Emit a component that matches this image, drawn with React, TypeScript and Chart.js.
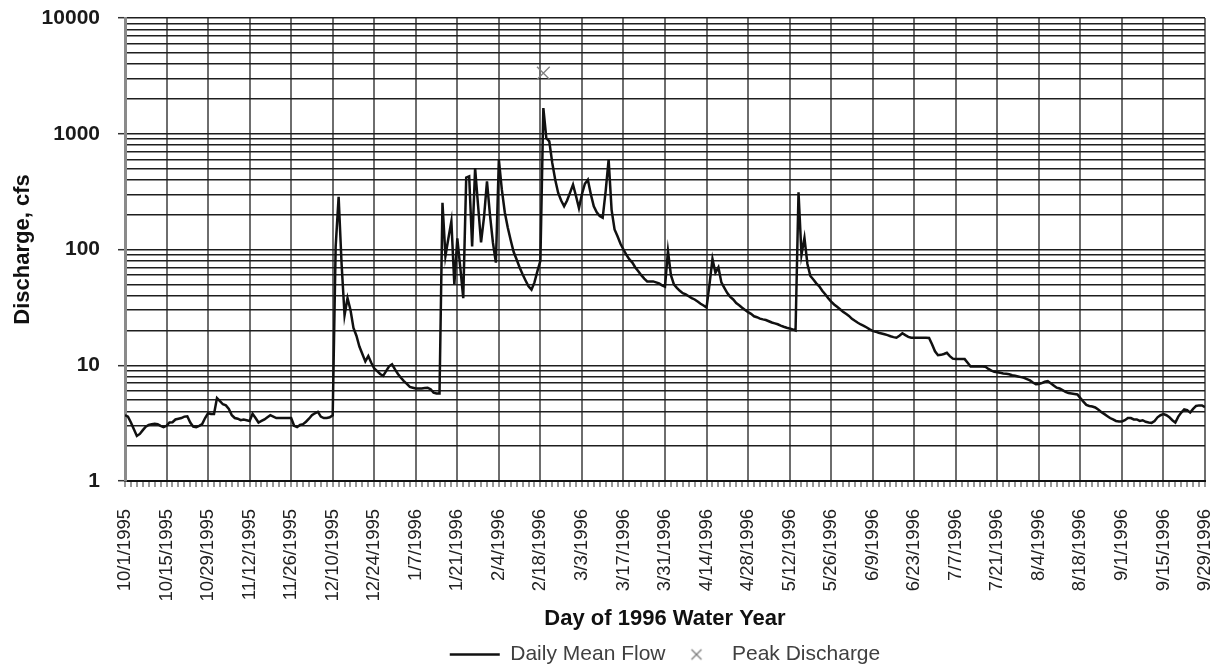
import React, { useEffect, useRef } from 'react';
import { Chart, registerables } from 'chart.js';

Chart.register(...registerables);

// Daily mean flow (cfs), water year 1996, month by month
const oct1995 = [3.7, 3.6, 3.2, 2.8, 2.45, 2.55, 2.75, 2.95, 3.05, 3.1, 3.12, 3.1, 3.0, 2.92, 3.0, 3.2, 3.22, 3.4, 3.45, 3.5, 3.6, 3.62, 3.2, 2.95, 2.92, 3.0, 3.1, 3.5, 3.85, 3.8, 3.8];
const nov1995 = [5.2, 4.9, 4.6, 4.5, 4.2, 3.7, 3.5, 3.45, 3.35, 3.4, 3.35, 3.3, 3.8, 3.5, 3.2, 3.3, 3.4, 3.55, 3.7, 3.6, 3.5, 3.5, 3.5, 3.5, 3.5, 3.5, 3.0, 2.92, 3.05, 3.1];
const dec1995 = [3.25, 3.45, 3.7, 3.85, 3.95, 3.6, 3.5, 3.5, 3.55, 3.7, 106, 285, 75, 27, 38, 30, 21, 18, 14.5, 12.5, 10.8, 12, 10.5, 9.4, 8.9, 8.4, 8.1, 8.9, 9.8, 10.2, 9.2];
const jan1996 = [8.4, 7.8, 7.3, 6.9, 6.5, 6.4, 6.3, 6.3, 6.3, 6.35, 6.4, 6.2, 5.8, 5.7, 5.7, 253, 88, 125, 175, 50, 125, 70, 38, 418, 428, 106, 505, 240, 115, 190, 387];
const feb1996 = [200, 115, 77, 597, 330, 210, 155, 120, 95, 82, 70, 61, 54, 48, 45, 52, 65, 80, 1667, 918, 859, 560, 400, 308, 265, 236, 265, 310, 363];
const mar1996 = [290, 228, 300, 370, 401, 300, 236, 210, 195, 188, 320, 597, 220, 149, 130, 112, 100, 90, 82, 77, 70, 65, 60, 56, 53, 53, 53, 52, 51, 49, 47.7];
const apr1996 = [97, 60, 50, 46.7, 44, 42, 41, 39.5, 38, 37, 35.5, 34, 32.8, 31.5, 50, 83, 63, 70, 52, 46.7, 42, 39, 37, 34.5, 33, 31.4, 30, 28.8, 27.8, 26.5];
const may1996 = [26, 25.3, 24.9, 24.6, 24, 23.4, 23, 22.6, 22, 21.5, 21.1, 20.8, 20.4, 20, 312, 90, 126, 75, 59, 55, 51, 48, 44, 41, 38, 35.5, 33.5, 32, 30.5, 29, 27.8];
const jun1996 = [26.7, 25.2, 24.2, 23.3, 22.5, 21.9, 21.2, 20.4, 19.8, 19.5, 19.1, 18.8, 18.5, 18.2, 17.8, 17.5, 17.3, 18.0, 18.9, 18.2, 17.6, 17.3, 17.3, 17.3, 17.3, 17.3, 17.3, 17.2, 15.2, 13.2];
const jul1996 = [12.2, 12.3, 12.5, 12.8, 12.0, 11.4, 11.3, 11.3, 11.3, 11.3, 10.5, 9.75, 9.75, 9.75, 9.75, 9.75, 9.7, 9.3, 9.0, 8.76, 8.7, 8.6, 8.5, 8.45, 8.37, 8.2, 8.1, 8.0, 7.9, 7.8, 7.6];
const aug1996 = [7.4, 7.1, 6.85, 6.9, 7.0, 7.2, 7.3, 7.0, 6.7, 6.4, 6.3, 6.1, 5.9, 5.75, 5.7, 5.65, 5.6, 5.2, 4.85, 4.54, 4.45, 4.4, 4.32, 4.15, 3.95, 3.8, 3.65, 3.5, 3.4, 3.3, 3.27];
const sep1996 = [3.27, 3.35, 3.5, 3.5, 3.4, 3.4, 3.3, 3.35, 3.25, 3.2, 3.18, 3.3, 3.55, 3.7, 3.78, 3.7, 3.55, 3.35, 3.2, 3.6, 3.9, 4.15, 4.1, 3.9, 4.2, 4.45, 4.5, 4.5, 4.35, 4.3];

const dailyMeanFlow = [
  ...oct1995, ...nov1995, ...dec1995, ...jan1996, ...feb1996, ...mar1996,
  ...apr1996, ...may1996, ...jun1996, ...jul1996, ...aug1996, ...sep1996,
];

// Instantaneous peak discharge
const peakDate = '2/19/1996';
const peakDischarge = 3340;

// Labelled x ticks (every 14 days); the axis ends on the last one
const tickLabels = [
  '10/1/1995', '10/15/1995', '10/29/1995', '11/12/1995', '11/26/1995', '12/10/1995', '12/24/1995',
  '1/7/1996', '1/21/1996', '2/4/1996', '2/18/1996', '3/3/1996', '3/17/1996', '3/31/1996',
  '4/14/1996', '4/28/1996', '5/12/1996', '5/26/1996', '6/9/1996', '6/23/1996', '7/7/1996',
  '7/21/1996', '8/4/1996', '8/18/1996', '9/1/1996', '9/15/1996', '9/29/1996',
];
const tickEvery = 14;

// Y axis: labelled decades and minor gridline multipliers
const decadeLabels = [1, 10, 100, 1000, 10000];
const minorMultipliers = [1, 2, 3, 4, 5, 6, 7, 8, 9];

const FONT = "'Liberation Sans', Arial, Helvetica, sans-serif";

const startMs = Date.UTC(1995, 9, 1);
const dayLabels = dailyMeanFlow.map((_, i) => {
  const d = new Date(startMs + i * 86400000);
  return `${d.getUTCMonth() + 1}/${d.getUTCDate()}/${d.getUTCFullYear()}`;
});

const yGridValues = decadeLabels
  .slice(0, -1)
  .flatMap((d) => minorMultipliers.map((m) => m * d))
  .concat([decadeLabels[decadeLabels.length - 1]]);

function makeCross(): HTMLCanvasElement {
  const c = document.createElement('canvas');
  c.width = 14;
  c.height = 14;
  const g = c.getContext('2d');
  if (g) {
    g.strokeStyle = '#7a7a7a';
    g.lineWidth = 1.3;
    g.beginPath();
    g.moveTo(2, 2);
    g.lineTo(12, 12);
    g.moveTo(12, 2);
    g.lineTo(2, 12);
    g.stroke();
  }
  return c;
}

export default function App() {
  const ref = useRef<HTMLCanvasElement | null>(null);

  useEffect(() => {
    const canvas = ref.current;
    if (!canvas) return;
    const cross = makeCross();

    const chart = new Chart(canvas, {
      type: 'line',
      data: {
        labels: dayLabels,
        datasets: [
          {
            label: 'Daily Mean Flow',
            data: dailyMeanFlow,
            borderColor: '#111111',
            borderWidth: 2.5,
            pointRadius: 0,
            pointHoverRadius: 0,
            tension: 0,
            fill: false,
            clip: 0,
          },
          {
            label: 'Peak Discharge',
            data: dayLabels.map((l) => (l === peakDate ? peakDischarge : null)),
            showLine: false,
            pointStyle: 'crossRot',
            pointRadius: 9,
            pointHoverRadius: 9,
            pointBorderColor: '#808080',
            pointBorderWidth: 1.3,
            pointBackgroundColor: 'rgba(0,0,0,0)',
            borderColor: '#808080',
          },
        ],
      },
      options: {
        animation: false,
        responsive: false,
        events: [],
        layout: { padding: { top: 18, right: 18, bottom: -8, left: 0 } },
        plugins: {
          tooltip: { enabled: false },
          legend: {
            position: 'bottom',
            fullSize: false,
            labels: {
              usePointStyle: true,
              pointStyleWidth: 50,
              padding: 6,
              color: '#404040',
              font: { family: FONT, size: 21 },
              generateLabels: () => [
                {
                  text: 'Daily Mean Flow',
                  pointStyle: 'line',
                  strokeStyle: '#111111',
                  fillStyle: '#111111',
                  lineWidth: 2.5,
                  hidden: false,
                  datasetIndex: 0,
                  rotation: 0,
                  fontColor: '#404040',
                },
                {
                  text: 'Peak Discharge',
                  pointStyle: cross,
                  strokeStyle: '#808080',
                  fillStyle: 'rgba(0,0,0,0)',
                  lineWidth: 1.3,
                  hidden: false,
                  datasetIndex: 1,
                  rotation: 0,
                  fontColor: '#404040',
                },
              ],
            },
          },
        },
        scales: {
          x: {
            type: 'category',
            min: tickLabels[0],
            max: tickLabels[tickLabels.length - 1],
            grid: {
              color: (c: any) => (c.index % tickEvery === 0 ? '#6e6e6e' : 'rgba(0,0,0,0)'),
              lineWidth: 2,
              tickColor: (c: any) => (c.index % 2 === 0 ? '#333333' : 'rgba(0,0,0,0)'),
              tickLength: 6,
              tickWidth: 1,
            },
            border: { color: '#111111', width: 2 },
            ticks: {
              autoSkip: false,
              minRotation: 90,
              maxRotation: 90,
              padding: 22,
              color: '#222222',
              font: { family: FONT, size: 18.5 },
              callback: (_v: any, i: number) => (i % tickEvery === 0 ? tickLabels[i / tickEvery] : ''),
            },
            title: {
              display: true,
              text: 'Day of 1996 Water Year',
              color: '#111111',
              font: { family: FONT, size: 22, weight: 'bold' },
              padding: { top: 0, bottom: 6 },
            },
            afterFit: (s: any) => {
              s.height = 157;
              s.paddingLeft = 0;
              s.paddingRight = 0;
            },
          },
          y: {
            type: 'logarithmic',
            min: 1,
            max: 10000,
            afterBuildTicks: (s: any) => {
              s.ticks = yGridValues.map((v) => ({ value: v }));
            },
            grid: {
              color: '#1e1e1e',
              lineWidth: 1.4,
              tickColor: (c: any) =>
                c.tick && decadeLabels.includes(c.tick.value) ? '#333333' : 'rgba(0,0,0,0)',
              tickLength: 7,
              tickWidth: 1.5,
            },
            border: { color: '#8a8a8a', width: 3 },
            ticks: {
              autoSkip: false,
              padding: 18,
              color: '#1a1a1a',
              font: { family: FONT, size: 21, weight: 'bold' },
              callback: (v: any) => (decadeLabels.includes(Number(v)) ? String(v) : ''),
            },
            title: {
              display: true,
              text: 'Discharge, cfs',
              color: '#111111',
              font: { family: FONT, size: 22, weight: 'bold' },
              padding: { top: 10, bottom: 0 },
            },
            afterFit: (s: any) => {
              s.width = 125;
              s.paddingTop = 0;
              s.paddingBottom = 0;
            },
          },
        },
      },
    } as any);

    return () => {
      chart.destroy();
    };
  }, []);

  return (
    <canvas
      ref={ref}
      width={1223}
      height={667}
      style={{ position: 'fixed', left: 0, top: 0, width: 1223, height: 667, display: 'block', background: '#ffffff' }}
    />
  );
}
